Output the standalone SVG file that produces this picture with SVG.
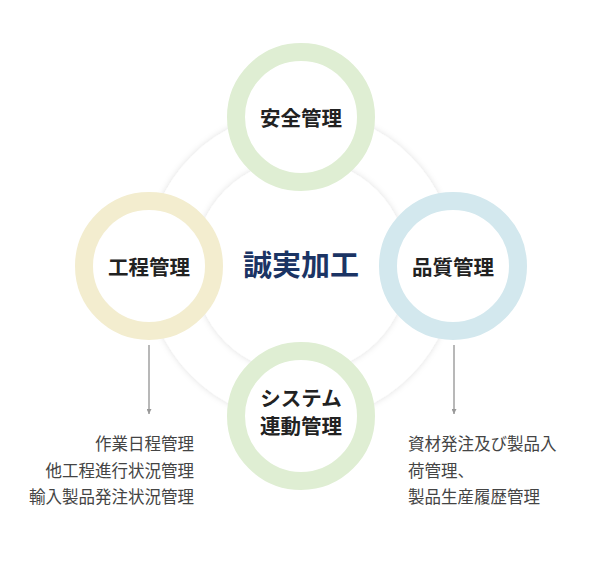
<svg xmlns="http://www.w3.org/2000/svg" width="598" height="578" viewBox="0 0 598 578">
<defs>
<filter id="sh" x="-20%" y="-20%" width="140%" height="140%">
<feDropShadow dx="0" dy="0" stdDeviation="3" flood-color="#000" flood-opacity="0.13"/>
</filter>
<marker id="ah" viewBox="0 0 10 10" refX="10" refY="5" markerWidth="9" markerHeight="5" orient="auto" markerUnits="userSpaceOnUse">
<path d="M0,0 L10,5 L0,10 Z" fill="#999"/>
</marker>
</defs>
<style>
.ring{fill:#fff;stroke-width:18}
.lbl{font-family:"Noto Sans CJK JP","Noto Sans",sans-serif;font-weight:bold;font-size:20.5px;fill:#222;text-anchor:middle}
.sub{font-family:"Noto Sans CJK JP","Noto Sans",sans-serif;font-size:16.5px;fill:#444}
.arr{stroke:#a0a0a0;stroke-width:1.5;fill:none}
</style>
<rect width="598" height="578" fill="#fff"/>
<g id="background">
<circle cx="301" cy="266" r="155" fill="#fff" filter="url(#sh)"/>
<circle cx="301" cy="266" r="107" fill="#fff" filter="url(#sh)"/>
</g>
<g id="connectors">
<line class="arr" x1="149" y1="345" x2="149" y2="414" marker-end="url(#ah)"/>
<line class="arr" x1="454" y1="345" x2="454" y2="414" marker-end="url(#ah)"/>
</g>
<g id="center">
<text x="301" y="276" font-family="'Noto Sans CJK JP','Noto Sans',sans-serif" font-weight="bold" font-size="29" fill="#1b3464" text-anchor="middle">誠実加工</text>
</g>
<g id="safety">
<circle class="ring" cx="301" cy="117" r="65" stroke="#dfeed3"/>
<text class="lbl" x="301" y="126">安全管理</text>
</g>
<g id="process">
<circle class="ring" cx="149" cy="266" r="65" stroke="#f3edcf"/>
<text class="lbl" x="149" y="275">工程管理</text>
</g>
<g id="quality">
<circle class="ring" cx="453" cy="266" r="65" stroke="#d3e8ee"/>
<text class="lbl" x="453" y="275">品質管理</text>
</g>
<g id="system">
<circle class="ring" cx="301" cy="416" r="65" stroke="#dfeed3"/>
<text class="lbl" x="301" y="406"><tspan x="301" y="406">システム</tspan><tspan x="301" y="434">連動管理</tspan></text>
</g>
<g id="process-notes">
<text class="sub" x="194" y="450" text-anchor="end">作業日程管理</text>
<text class="sub" x="194" y="477" text-anchor="end">他工程進行状況管理</text>
<text class="sub" x="194" y="503" text-anchor="end">輸入製品発注状況管理</text>
</g>
<g id="quality-notes">
<text class="sub" x="408" y="450">資材発注及び製品入</text>
<text class="sub" x="408" y="477">荷管理、</text>
<text class="sub" x="408" y="503">製品生産履歴管理</text>
</g>
</svg>
